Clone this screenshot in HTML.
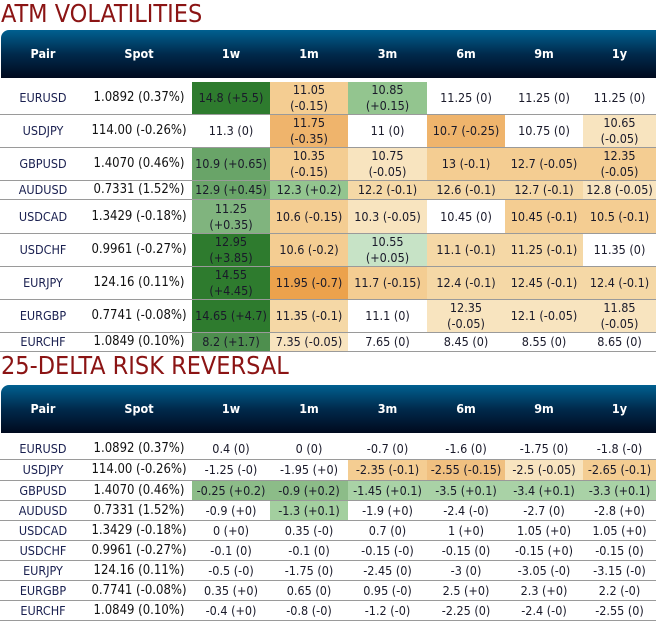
<!DOCTYPE html>
<html><head><meta charset="utf-8"><style>
body{margin:0;width:656px;height:620px;background:#fff;position:relative;overflow:hidden;font-family:"Liberation Sans",sans-serif}
.title{position:absolute;left:1px;font-family:"DejaVu Sans Condensed","DejaVu Sans",sans-serif;font-size:25px;color:#8b1414;line-height:28px;white-space:nowrap}
.hdr{position:absolute;left:1px;width:655px;height:48px;border-top-left-radius:8px;background:linear-gradient(#006090,#002a4c 50%,#000a1e)}
.hc{position:absolute;top:0;height:48px;line-height:48px;text-align:center;color:#fff;font-weight:bold;font-size:12.5px;font-family:"DejaVu Sans Condensed","DejaVu Sans",sans-serif}
.row{position:absolute;left:0;width:656px;border-bottom:1px solid #9a9a9a;box-sizing:border-box}
.c{position:absolute;top:0;bottom:0;display:flex;align-items:center;justify-content:center;text-align:center;font-size:12.5px;color:#1a1a2a;line-height:16px;font-family:"DejaVu Sans Condensed","DejaVu Sans",sans-serif;white-space:nowrap}
.pair{color:#1a2050}
.spot{color:#111;font-size:13px}
</style></head><body>
<div class="title" style="top:0px">ATM VOLATILITIES</div>
<div class="title" style="top:352px">25-DELTA RISK REVERSAL</div>
<div id="t1"></div>
<div id="t2"></div>
<script>
const headers=["Pair","Spot","1w","1m","3m","6m","9m","1y"];
const pairs=["EURUSD","USDJPY","GBPUSD","AUDUSD","USDCAD","USDCHF","EURJPY","EURGBP","EURCHF"];
const spots=["1.0892 (0.37%)","114.00 (-0.26%)","1.4070 (0.46%)","0.7331 (1.52%)","1.3429 (-0.18%)","0.9961 (-0.27%)","124.16 (0.11%)","0.7741 (-0.08%)","1.0849 (0.10%)"];
const atmVals=[
["14.8 (+5.5)","11.05<br>(-0.15)","10.85<br>(+0.15)","11.25 (0)","11.25 (0)","11.25 (0)"],
["11.3 (0)","11.75<br>(-0.35)","11 (0)","10.7 (-0.25)","10.75 (0)","10.65<br>(-0.05)"],
["10.9 (+0.65)","10.35<br>(-0.15)","10.75<br>(-0.05)","13 (-0.1)","12.7 (-0.05)","12.35<br>(-0.05)"],
["12.9 (+0.45)","12.3 (+0.2)","12.2 (-0.1)","12.6 (-0.1)","12.7 (-0.1)","12.8 (-0.05)"],
["11.25<br>(+0.35)","10.6 (-0.15)","10.3 (-0.05)","10.45 (0)","10.45 (-0.1)","10.5 (-0.1)"],
["12.95<br>(+3.85)","10.6 (-0.2)","10.55<br>(+0.05)","11.1 (-0.1)","11.25 (-0.1)","11.35 (0)"],
["14.55<br>(+4.45)","11.95 (-0.7)","11.7 (-0.15)","12.4 (-0.1)","12.45 (-0.1)","12.4 (-0.1)"],
["14.65 (+4.7)","11.35 (-0.1)","11.1 (0)","12.35<br>(-0.05)","12.1 (-0.05)","11.85<br>(-0.05)"],
["8.2 (+1.7)","7.35 (-0.05)","7.65 (0)","8.45 (0)","8.55 (0)","8.65 (0)"]];
const G1="#2e7b2e",G2="#69a468",G3="#80b47e",G4="#93c58f",G5="#c7e3c6",O1="#eca24c",O2="#efb46c",O3="#f4cd92",O4="#f5d8a6",O5="#f8e4bf",W="#fff";
const atmColors=[
[G1,O3,G4,W,W,W],[W,O2,W,O2,W,O5],[G2,O3,O5,O3,O3,O3],[G2,G4,O4,O4,O4,O5],
[G3,O3,O5,W,O3,O3],[G1,O3,G5,O4,O4,W],[G1,O1,O3,O4,O4,O4],[G1,O4,W,O5,O5,O5],["#4e8f4e",O5,W,W,W,W]];
const rrVals=[
["0.4 (0)","0 (0)","-0.7 (0)","-1.6 (0)","-1.75 (0)","-1.8 (-0)"],
["-1.25 (-0)","-1.95 (+0)","-2.35 (-0.1)","-2.55 (-0.15)","-2.5 (-0.05)","-2.65 (-0.1)"],
["-0.25 (+0.2)","-0.9 (+0.2)","-1.45 (+0.1)","-3.5 (+0.1)","-3.4 (+0.1)","-3.3 (+0.1)"],
["-0.9 (+0)","-1.3 (+0.1)","-1.9 (+0)","-2.4 (-0)","-2.7 (0)","-2.8 (+0)"],
["0 (+0)","0.35 (-0)","0.7 (0)","1 (+0)","1.05 (+0)","1.05 (+0)"],
["-0.1 (0)","-0.1 (0)","-0.15 (-0)","-0.15 (0)","-0.15 (+0)","-0.15 (0)"],
["-0.5 (-0)","-1.75 (0)","-2.45 (0)","-3 (0)","-3.05 (-0)","-3.15 (-0)"],
["0.35 (+0)","0.65 (0)","0.95 (-0)","2.5 (+0)","2.3 (+0)","2.2 (-0)"],
["-0.4 (+0)","-0.8 (-0)","-1.2 (-0)","-2.25 (0)","-2.4 (-0)","-2.55 (0)"]];
const rrColors=[
[W,W,W,W,W,W],[W,W,O3,"#f0c080",O5,O3],["#8cbc88","#8cbc88","#a9d2a6","#a9d2a6","#a9d2a6","#a9d2a6"],
[W,"#a3cf9f",W,W,W,W],[W,W,W,W,W,W],[W,W,W,W,W,W],[W,W,W,W,W,W],[W,W,W,W,W,W],[W,W,W,W,W,W]];
const colX=[0,86,192,270,348,427,505,583,656];
const rowH1=[33,33,33,19,34,33,33,33,19];
const rowH2=[21,21,20,20,20,20,20,20,20];

function build(root,top,rowH,vals,colors,key){
  const h=document.createElement('div');h.className='hdr';h.style.top=top+'px';
  
  
  headers.forEach((t,i)=>{const d=document.createElement('div');d.className='hc';
    d.style.left=(colX[i]-1)+'px';d.style.width=(colX[i+1]-colX[i])+'px';d.textContent=t;
    
    
    h.appendChild(d);});
  root.appendChild(h);
  let y=top+(key==='atm'?52:54);
  pairs.forEach((p,r)=>{
    const row=document.createElement('div');row.className='row';
    row.style.top=y+'px';row.style.height=rowH[r]+'px';
    
    
    const cells=[p,spots[r]].concat(vals[r]);
    cells.forEach((t,i)=>{const c=document.createElement('div');
      c.className='c'+(i===0?' pair':i===1?' spot':'');
      c.style.left=colX[i]+'px';c.style.width=(colX[i+1]-colX[i])+'px';
      if(i>=2)c.style.background=colors[r][i-2];
      c.innerHTML=t;
      
      
      row.appendChild(c);});
    root.appendChild(row);y+=rowH[r];
  });
}
build(document.getElementById('t1'),30,rowH1,atmVals,atmColors,'atm');
build(document.getElementById('t2'),385,rowH2,rrVals,rrColors,'rr');
</script>
</body></html>
